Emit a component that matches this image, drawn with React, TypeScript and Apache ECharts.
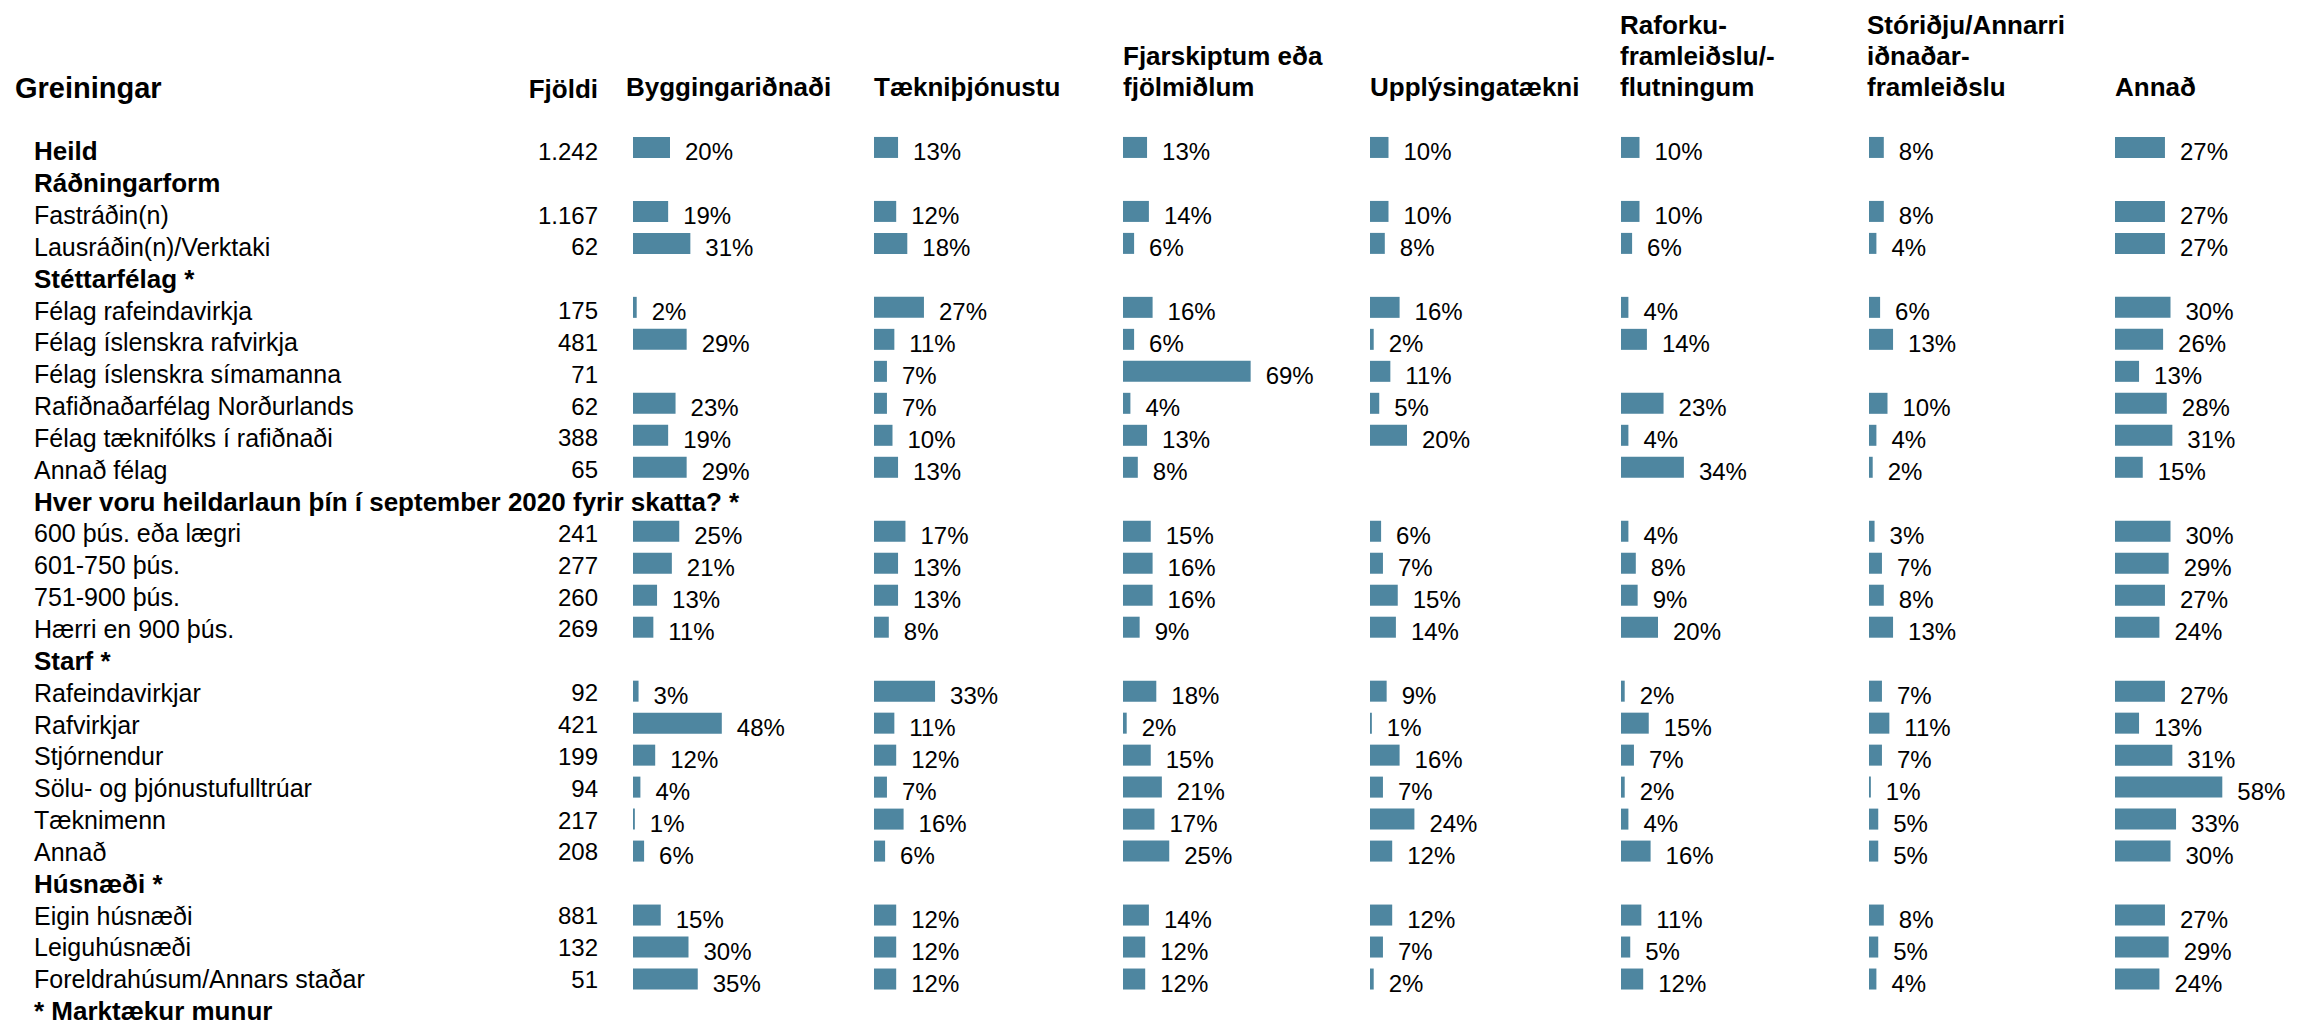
import React, { useEffect, useRef } from "react";
import * as echarts from "echarts";

const rowLabels = [
  "Heild",
  "Ráðningarform",
  "Fastráðin(n)",
  "Lausráðin(n)/Verktaki",
  "Stéttarfélag *",
  "Félag rafeindavirkja",
  "Félag íslenskra rafvirkja",
  "Félag íslenskra símamanna",
  "Rafiðnaðarfélag Norðurlands",
  "Félag tæknifólks í rafiðnaði",
  "Annað félag",
  "Hver voru heildarlaun þín í september 2020 fyrir skatta? *",
  "600 þús. eða lægri",
  "601-750 þús.",
  "751-900 þús.",
  "Hærri en 900 þús.",
  "Starf *",
  "Rafeindavirkjar",
  "Rafvirkjar",
  "Stjórnendur",
  "Sölu- og þjónustufulltrúar",
  "Tæknimenn",
  "Annað",
  "Húsnæði *",
  "Eigin húsnæði",
  "Leiguhúsnæði",
  "Foreldrahúsum/Annars staðar",
  "* Marktækur munur",
];

const boldLabels = [
  "Heild",
  "Ráðningarform",
  "Stéttarfélag *",
  "Hver voru heildarlaun þín í september 2020 fyrir skatta? *",
  "Starf *",
  "Húsnæði *",
  "* Marktækur munur",
];

const counts = [
  "1.242", "", "1.167", "62", "", "175", "481", "71", "62", "388", "65", "",
  "241", "277", "260", "269", "", "92", "421", "199", "94", "217", "208", "",
  "881", "132", "51", "",
];

const columnHeaders = [
  "Byggingariðnaði",
  "Tækniþjónustu",
  "Fjarskiptum eða\nfjölmiðlum",
  "Upplýsingatækni",
  "Raforku-\nframleiðslu/-\nflutningum",
  "Stóriðju/Annarri\niðnaðar-\nframleiðslu",
  "Annað",
];

const bygg = [20, null, 19, 31, null, 2, 29, null, 23, 19, 29, null, 25, 21, 13, 11, null, 3, 48, 12, 4, 1, 6, null, 15, 30, 35, null];
const taekni = [13, null, 12, 18, null, 27, 11, 7, 7, 10, 13, null, 17, 13, 13, 8, null, 33, 11, 12, 7, 16, 6, null, 12, 12, 12, null];
const fjarsk = [13, null, 14, 6, null, 16, 6, 69, 4, 13, 8, null, 15, 16, 16, 9, null, 18, 2, 15, 21, 17, 25, null, 14, 12, 12, null];
const upplys = [10, null, 10, 8, null, 16, 2, 11, 5, 20, null, null, 6, 7, 15, 14, null, 9, 1, 16, 7, 24, 12, null, 12, 7, 2, null];
const raforku = [10, null, 10, 6, null, 4, 14, null, 23, 4, 34, null, 4, 8, 9, 20, null, 2, 15, 7, 2, 4, 16, null, 11, 5, 12, null];
const storidju = [8, null, 8, 4, null, 6, 13, null, 10, 4, 2, null, 3, 7, 8, 13, null, 7, 11, 7, 1, 5, 5, null, 8, 5, 4, null];
const annad = [27, null, 27, 27, null, 30, 26, 13, 28, 31, 15, null, 30, 29, 27, 24, null, 27, 13, 31, 58, 33, 30, null, 27, 29, 24, null];

const seriesValues = [bygg, taekni, fjarsk, upplys, raforku, storidju, annad];

const FONT = "'Liberation Sans', Arial, Helvetica, sans-serif";
const BAR_COLOR = "#4E86A0";

export default function App() {
  const ref = useRef<HTMLDivElement>(null);

  useEffect(() => {
    document.body.style.margin = "0";
    document.body.style.overflow = "hidden";
    const chart = echarts.init(ref.current as HTMLDivElement, null, { renderer: "svg" });

    const rowH = 32.1;
    const n = rowLabels.length;
    const top0 = 147.5 - rowH / 2;
    const gridH = rowH * n;
    const colLefts = [633, 874, 1123, 1370, 1621, 1869, 2115];
    const headerX = [626, 874, 1123, 1370, 1620, 1867, 2115];
    const headerBottom = 102;

    const grids: any[] = [{ left: 34, top: top0 + 4, width: 564, height: gridH }];
    colLefts.forEach((l) => grids.push({ left: l, top: top0, width: 185, height: gridH }));

    const xAxes: any[] = grids.map((_, i) => ({
      type: "value",
      gridIndex: i,
      min: 0,
      max: 100,
      show: false,
    }));

    const yAxes: any[] = [
      {
        type: "category",
        gridIndex: 0,
        data: rowLabels,
        inverse: true,
        position: "left",
        axisLine: { show: false },
        axisTick: { show: false },
        splitLine: { show: false },
        axisLabel: {
          inside: true,
          margin: 0,
          interval: 0,
          color: "#000",
          fontFamily: FONT,
          fontSize: 25,
          formatter: (v: string) => (boldLabels.includes(v) ? `{b|${v}}` : `{r|${v}}`),
          rich: {
            b: { fontWeight: "bold", fontSize: 26, fontFamily: FONT, color: "#000" },
            r: { fontSize: 25, fontFamily: FONT, color: "#000" },
          },
        },
      },
      {
        type: "category",
        gridIndex: 0,
        data: rowLabels,
        inverse: true,
        position: "right",
        axisLine: { show: false },
        axisTick: { show: false },
        splitLine: { show: false },
        axisLabel: {
          inside: true,
          margin: 0,
          interval: 0,
          color: "#000",
          fontFamily: FONT,
          fontSize: 24,
          formatter: (_v: string, i: number) => counts[i],
        },
      },
    ];
    colLefts.forEach((_, i) =>
      yAxes.push({
        type: "category",
        gridIndex: i + 1,
        data: rowLabels,
        inverse: true,
        show: false,
      })
    );

    const series = seriesValues.map((vals, c) => ({
      type: "bar",
      xAxisIndex: c + 1,
      yAxisIndex: c + 2,
      data: vals,
      barWidth: 21,
      itemStyle: { color: BAR_COLOR },
      label: {
        show: true,
        position: "right",
        distance: 15,
        offset: [0, 4],
        formatter: "{c}%",
        fontSize: 24,
        fontFamily: FONT,
        color: "#000",
      },
    }));

    const graphics: any[] = [
      {
        type: "text",
        x: 15,
        y: headerBottom,
        style: {
          text: "Greiningar",
          fontSize: 29,
          fontWeight: "bold",
          fontFamily: FONT,
          fill: "#000",
          align: "left",
          verticalAlign: "bottom",
        },
      },
      {
        type: "text",
        x: 598,
        y: headerBottom,
        style: {
          text: "Fjöldi",
          fontSize: 26,
          fontWeight: "bold",
          fontFamily: FONT,
          fill: "#000",
          align: "right",
          verticalAlign: "bottom",
        },
      },
    ];
    columnHeaders.forEach((h, i) =>
      graphics.push({
        type: "text",
        x: headerX[i],
        y: headerBottom,
        style: {
          text: h,
          fontSize: 26,
          fontWeight: "bold",
          fontFamily: FONT,
          fill: "#000",
          align: "left",
          verticalAlign: "bottom",
          lineHeight: 31,
        },
      })
    );

    chart.setOption({
      animation: false,
      backgroundColor: "#fff",
      textStyle: { fontFamily: FONT },
      grid: grids,
      xAxis: xAxes,
      yAxis: yAxes,
      series,
      graphic: graphics,
    });

    return () => chart.dispose();
  }, []);

  return <div ref={ref} style={{ width: 2317, height: 1027 }} />;
}
